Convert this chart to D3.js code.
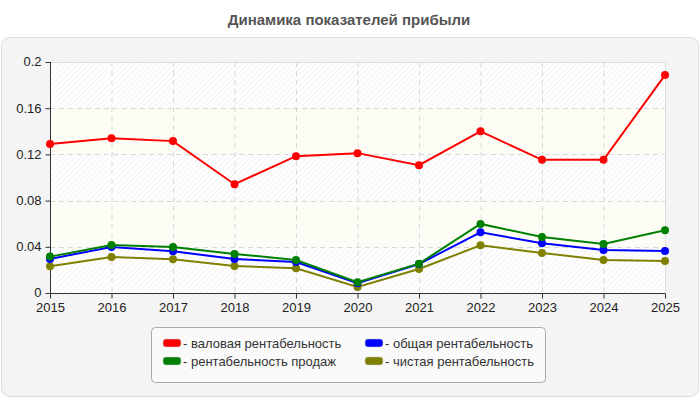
<!DOCTYPE html>
<html><head><meta charset="utf-8">
<script src="https://cdn.jsdelivr.net/npm/d3@7"></script>
<style>body{margin:0;background:#fff;font-family:Arial,"Liberation Sans",sans-serif;}</style>
</head><body><svg id="c" width="700" height="400"></svg>
<script>
const years = [2015,2016,2017,2018,2019,2020,2021,2022,2023,2024,2025];
const gross = [0.129,0.134,0.1315,0.0942,0.1185,0.1211,0.1107,0.140,0.1153,0.1153,0.1887];
const total = [0.0295,0.0399,0.0361,0.0295,0.0269,0.0084,0.0251,0.0526,0.0431,0.0373,0.0364];
const sales = [0.0315,0.0416,0.0399,0.0338,0.0286,0.0093,0.0254,0.0598,0.0485,0.0425,0.0543];
const net   = [0.0231,0.0312,0.0292,0.0234,0.0214,0.0052,0.0208,0.0413,0.0347,0.0286,0.0277];
const yTicks = [0,0.04,0.08,0.12,0.16,0.2];
const yTickLabels = ["0","0.04","0.08","0.12","0.16","0.2"];
const seriesNames = ["- валовая рентабельность","- общая рентабельность","- рентабельность продаж","- чистая рентабельность"];
const seriesColors = ["#ff0000","#0000ff","#008000","#808000"];
const title = "Динамика показателей прибыли";

const series = [
  {name:seriesNames[0], color:seriesColors[0], values:gross},
  {name:seriesNames[1], color:seriesColors[1], values:total},
  {name:seriesNames[2], color:seriesColors[2], values:sales},
  {name:seriesNames[3], color:seriesColors[3], values:net}
];
const drawOrder = [3,1,2,0];

const svg = d3.select("#c");
const defs = svg.append("defs");
const pat = defs.append("pattern").attr("id","hatch").attr("patternUnits","userSpaceOnUse")
  .attr("width",4).attr("height",4).attr("patternTransform","rotate(45)");
pat.append("rect").attr("width",4).attr("height",4).attr("fill","#ffffff");
pat.append("line").attr("x1",0).attr("y1",0).attr("x2",0).attr("y2",4).attr("stroke","#e8e8e8").attr("stroke-width",1);

svg.append("text").attr("x",349).attr("y",25).attr("text-anchor","middle")
  .attr("font-size",15).attr("font-weight","bold").attr("fill","#555").text(title);

svg.append("rect").attr("x",1.5).attr("y",37.5).attr("width",697).attr("height",359).attr("rx",8)
  .attr("fill","#f4f4f4").attr("stroke","#dcdcdc");

const L=50,R=665,T=62,B=293;
const x = d3.scalePoint().domain(years).range([L,R]);
const y = d3.scaleLinear().domain([0,0.2]).range([B,T]);

// bands
const g = svg.append("g");
for(let i=0;i<yTicks.length-1;i++){
  const y0=y(yTicks[i]), y1=y(yTicks[i+1]);
  g.append("rect").attr("x",L).attr("y",y1).attr("width",R-L).attr("height",y0-y1)
    .attr("fill", i%2===0 ? "url(#hatch)" : "#fdfdf5");
}
// border
g.append("path").attr("d",`M${L},${T+0.5}H${R+0.5}V${B}`).attr("fill","none").attr("stroke","#dddddd");
// grid
years.slice(1,-1).forEach(v=>{
  g.append("line").attr("x1",x(v)+0.5).attr("x2",x(v)+0.5).attr("y1",T).attr("y2",B)
    .attr("stroke","#d8d8d8").attr("stroke-dasharray","5,4");
});
yTicks.slice(1,-1).forEach(v=>{
  g.append("line").attr("x1",L).attr("x2",R).attr("y1",Math.round(y(v))+0.5).attr("y2",Math.round(y(v))+0.5)
    .attr("stroke","#d8d8d8").attr("stroke-dasharray","5,4");
});

// axes
const yAxis = d3.axisLeft(y).tickValues(yTicks).tickFormat((d,i)=>yTickLabels[i]).tickSize(5).tickPadding(4);
const ya = svg.append("g").attr("transform",`translate(${L+0.5},0)`).call(yAxis);
const xAxis = d3.axisBottom(x).tickSize(5).tickPadding(4);
const xa = svg.append("g").attr("transform",`translate(0,${B+0.5})`).call(xAxis);
[ya,xa].forEach(a=>{
  a.selectAll("path.domain").attr("stroke","#333");
  a.selectAll(".tick line").attr("stroke","#333");
  a.selectAll("text").attr("font-size",13).attr("fill","#222").attr("font-family","Arial,'Liberation Sans',sans-serif");
});
ya.selectAll("text").attr("dy","0.3em");
xa.select("path.domain").attr("d",`M${L},0H${R}`);
ya.select("path.domain").attr("d",`M0,${T}V${B}`);

// lines
const line = d3.line().x((d,i)=>x(years[i])).y(d=>y(d));
drawOrder.forEach(k=>{
  const s=series[k];
  svg.append("path").datum(s.values).attr("d",line).attr("fill","none")
    .attr("stroke",s.color).attr("stroke-width",2);
  svg.append("g").selectAll("circle").data(s.values).join("circle")
    .attr("cx",(d,i)=>x(years[i])).attr("cy",d=>y(d)).attr("r",4).attr("fill",s.color);
});

// legend
svg.append("rect").attr("x",151.5).attr("y",327.5).attr("width",394).attr("height",55).attr("rx",4)
  .attr("fill","#fafafa").attr("stroke","#aaaaaa");
const legPos=[[163,343],[365,343],[163,361],[365,361]];
const legOrder=[0,1,2,3];
legOrder.forEach((k,j)=>{
  const s=series[k]; const [lx,ly]=legPos[j];
  svg.append("rect").attr("x",lx).attr("y",ly-4).attr("width",18).attr("height",8).attr("rx",3)
    .attr("fill",s.color).attr("stroke","#ccc").attr("stroke-width",0.5);
  svg.append("text").attr("x",lx+20).attr("y",ly+4.5).attr("font-size",13).attr("fill","#333").text(s.name);
});
</script></body></html>
